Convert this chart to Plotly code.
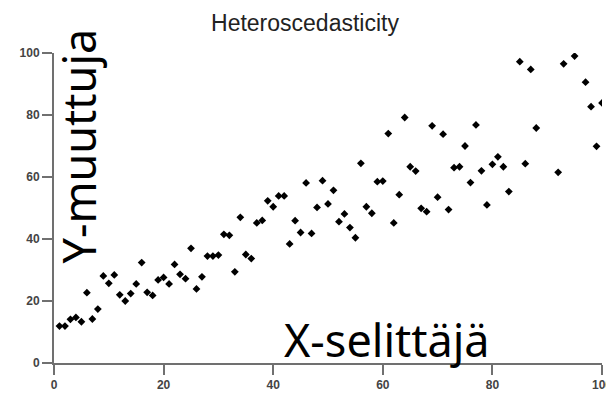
import plotly.graph_objects as go

x_vals = [1, 2, 3, 4, 5, 6, 7, 8, 9, 10,
          11, 12, 13, 14, 15, 16, 17, 18, 19, 20,
          21, 22, 23, 24, 25, 26, 27, 28, 29, 30,
          31, 32, 33, 34, 35, 36, 37, 38, 39, 40,
          41, 42, 43, 44, 45, 46, 47, 48, 49, 50,
          51, 52, 53, 54, 55, 56, 57, 58, 59, 60,
          61, 62, 63, 64, 65, 66, 67, 68, 69, 70,
          71, 72, 73, 74, 75, 76, 77, 78, 79, 80,
          81, 82, 83, 85, 86, 87, 88, 92, 93, 95,
          97, 98, 99, 100]
y_vals = [11.9, 11.9, 14.1, 14.7, 13.3, 22.7, 14.2, 17.4, 28.1, 25.7,
          28.4, 22.0, 20.0, 22.4, 25.5, 32.4, 22.8, 21.8, 26.8, 27.6,
          25.5, 31.8, 28.6, 27.2, 37.0, 23.9, 27.8, 34.5, 34.5, 34.8,
          41.5, 41.2, 29.4, 47.0, 35.0, 33.7, 45.2, 46.0, 52.3, 50.4,
          53.9, 53.9, 38.4, 45.9, 42.1, 58.1, 41.8, 50.2, 58.8, 51.3,
          55.7, 45.6, 48.1, 43.7, 40.4, 64.4, 50.4, 48.3, 58.5, 58.7,
          74.0, 45.2, 54.3, 79.2, 63.3, 61.9, 49.9, 48.8, 76.5, 53.5,
          73.8, 49.5, 63.0, 63.3, 70.0, 58.2, 76.8, 62.0, 51.0, 64.1,
          66.5, 63.3, 55.3, 97.2, 64.3, 94.7, 75.8, 61.5, 96.5, 99.0,
          90.6, 82.7, 69.9, 83.9]
tick_vals = [0, 20, 40, 60, 80, 100]
tick_text = ["0", "20", "40", "60", "80", "100"]

title_text = "Heteroscedasticity"
x_label = "X-selittäjä"
y_label = "Y-muuttuja"

fig = go.Figure()
fig.add_trace(go.Scatter(
    x=x_vals, y=y_vals, mode="markers",
    marker=dict(symbol="diamond", size=6, color="black", line=dict(width=0)),
    showlegend=False,
))

axis_common = dict(
    range=[0, 100], tickmode="array", tickvals=tick_vals, ticktext=tick_text,
    showgrid=False, zeroline=False, showline=True, linecolor="#707070", linewidth=2,
    ticks="outside", ticklen=10, tickwidth=2, tickcolor="#707070",
    tickfont=dict(family="Liberation Sans", size=12, color="#444", weight="bold"),
    ticklabeloverflow="allow",
    automargin=False, fixedrange=True,
)

fig.update_layout(
    width=606, height=397,
    margin=dict(l=54, r=4, t=53, b=34, pad=0),
    paper_bgcolor="white", plot_bgcolor="white",
    xaxis=axis_common,
    yaxis=axis_common,
    title=dict(text=title_text, x=305 / 606, xref="container", xanchor="center",
               y=1 - 23 / 397, yref="container", yanchor="middle",
               font=dict(family="Liberation Sans", size=23, color="#222")),
    annotations=[
        dict(text=x_label, xref="paper", yref="paper", x=0.608, y=0.076,
             xanchor="center", yanchor="middle", showarrow=False,
             font=dict(family="Noto Sans", size=45, color="black")),
        dict(text=y_label, xref="paper", yref="paper", x=0.043, y=0.70,
             xanchor="center", yanchor="middle", showarrow=False, textangle=-90,
             font=dict(family="Noto Sans", size=45, color="black")),
    ],
)

fig.write_html("out.html")
